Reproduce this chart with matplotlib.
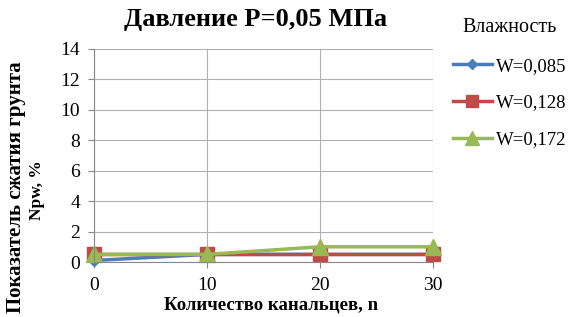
import matplotlib.pyplot as plt

channels = [0, 10, 20, 30]
w_085 = [0.1, 0.5, 0.5, 0.5]
w_128 = [0.5, 0.5, 0.5, 0.5]
w_172 = [0.5, 0.5, 1.0, 1.0]
y_ticks = [0, 2, 4, 6, 8, 10, 12, 14]

plt.rcParams["font.family"] = ["Liberation Serif", "DejaVu Serif"]

fig = plt.figure(figsize=(5.72, 3.17), dpi=100)
ax = fig.add_axes([0.1643, 0.1735, 0.5927, 0.6720])

ax.plot(channels, w_085, color="#4A7EBB", lw=2.5, marker="D", ms=6, label="W=0,085")
ax.plot(channels, w_128, color="#BE4B48", lw=2.5, marker="s", ms=10, label="W=0,128")
ax.plot(channels, w_172, color="#98B954", lw=2.5, marker="^", ms=12, label="W=0,172")

ax.set_xlim(0, 30)
ax.set_ylim(0, 14)
ax.set_xticks(channels)
ax.set_yticks(y_ticks)
ax.tick_params(labelsize=14, color="#888888", length=4)
ax.tick_params(axis="x", pad=7)
ax.tick_params(axis="y", pad=6)
ax.grid(True, color="#B0B0B0", lw=0.8)
for s in ax.spines.values():
    s.set_visible(False)
ax.spines["left"].set_visible(True)
ax.spines["bottom"].set_visible(True)
ax.spines["left"].set_color("#888888")
ax.spines["bottom"].set_color("#888888")
for line in ax.lines:
    line.set_clip_on(False)

fig.text(0.474, 0.038, "Количество канальцев, n", fontsize=13.5, fontweight="bold",
         ha="center", va="center")
fig.text(0.028, 0.41, "Показатель сжатия грунта", fontsize=15, fontweight="bold",
         rotation=90, ha="center", va="center")
fig.text(0.064, 0.40, "Npw, %", fontsize=12.5, fontweight="bold",
         rotation=90, ha="center", va="center")
fig.text(0.447, 0.94, "Давление P=0,05 МПа", fontsize=19, fontweight="bold",
         ha="center", va="center")

leg = fig.legend(loc="upper left", bbox_to_anchor=(0.778, 0.968), frameon=False, fontsize=13.5,
                 title="Влажность", title_fontsize=14.5, handlelength=2.1, handletextpad=0.2,
                 labelspacing=1.05, markerscale=0.8, borderaxespad=0)
leg._legend_box.sep = 15

fig.savefig("out.png", dpi=100)
